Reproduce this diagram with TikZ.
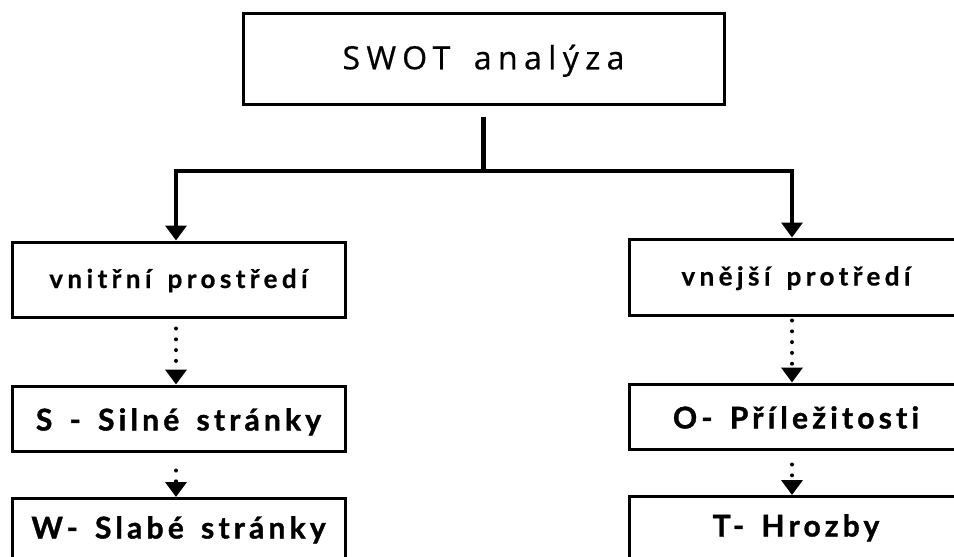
\documentclass[tikz,border=0pt]{standalone}
\usepackage{fontspec}
\setmainfont{Lato}
\newfontfamily\titlefont{Open Sans}[LetterSpace=20,WordSpace=1.6,FakeBold=0.6]
\newfontfamily\envfont{Lato}[LetterSpace=17,WordSpace=1.5,Ligatures=NoCommon,FakeBold=0.6]
\newfontfamily\factfont{Lato}[LetterSpace=14,WordSpace=1.5,Ligatures=NoCommon,FakeBold=1.2]
\usetikzlibrary{arrows.meta}
\begin{document}
\begin{tikzpicture}[x=1pt,y=-1pt,
  box/.style={draw=black,line width=3pt,minimum width=333pt,inner sep=0pt,text depth=0pt},
  envbox/.style={box,minimum height=75pt,text height=17pt,
    font=\envfont\bfseries\fontsize{26}{31}\selectfont},
  factbox/.style={box,minimum height=65pt,text height=24pt,
    font=\factfont\bfseries\fontsize{30}{35}\selectfont},
  lastbox/.style={factbox,minimum height=80pt,text height=0pt,text depth=0pt,anchor=north},
  titlebox/.style={draw=black,line width=3pt,minimum width=481pt,minimum height=91pt,
    inner sep=0pt,text height=21.5pt,text depth=0pt,
    font=\titlefont\fontsize{32}{37}\selectfont},
  solidarrow/.style={line width=3.5pt,-{Triangle[width=21pt,length=15pt]}},
  dotarrow/.style={line width=4pt,line cap=round,dash pattern=on 0pt off 10.8pt,
    -{Triangle[width=21pt,length=15pt]}},
  stem/.style={line width=4.5pt}
]
\useasboundingbox (0,0) rectangle (954,557);

\node[titlebox] (swot) at (483.5,58.5) {SWOT analýza};

\node[envbox] (vnitr) at (178.5,279.5) {vnitřní prostředí};
\node[factbox] (silne) at (178.5,418.5) {S - Silné stránky};
\node[lastbox] (slabe) at (178.5,497) {W- Slabé stránky};

\node[envbox,minimum height=76pt] (vnejs) at (796,277) {vnější protředí};
\node[factbox] (prile) at (796,416.5) {O- Příležitosti};
\node[lastbox] (hrozby) at (796,495) {T- Hrozby};

% branch from the title box
\coordinate (stemtop) at (483.5,117);
\coordinate (junction) at (483.5,171);
\coordinate (leftcorner) at (176,171);
\coordinate (rightcorner) at (792,171);
\draw[stem] (stemtop) -- ([yshift=-2pt]junction);
\draw[line width=3.5pt] (leftcorner) -- (rightcorner);
\draw[solidarrow] ([yshift=1.75pt]leftcorner) -- (leftcorner |- vnitr.north);
\draw[solidarrow] ([yshift=1.75pt]rightcorner) -- (rightcorner |- vnejs.north);

% dotted links inside each column
\draw[dotarrow] ([xshift=-2.5pt,yshift=-10pt]vnitr.south) -- ([xshift=-2.5pt]silne.north);
\draw[dotarrow] ([xshift=-2.5pt,yshift=-18pt]silne.south) -- ([xshift=-2.5pt]slabe.north);
\draw[dotarrow] ([xshift=-4pt,yshift=-4pt]vnejs.south) -- ([xshift=-4pt]prile.north);
\draw[dotarrow] ([xshift=-4pt,yshift=-14pt]prile.south) -- ([xshift=-4pt]hrozby.north);
\end{tikzpicture}
\end{document}
